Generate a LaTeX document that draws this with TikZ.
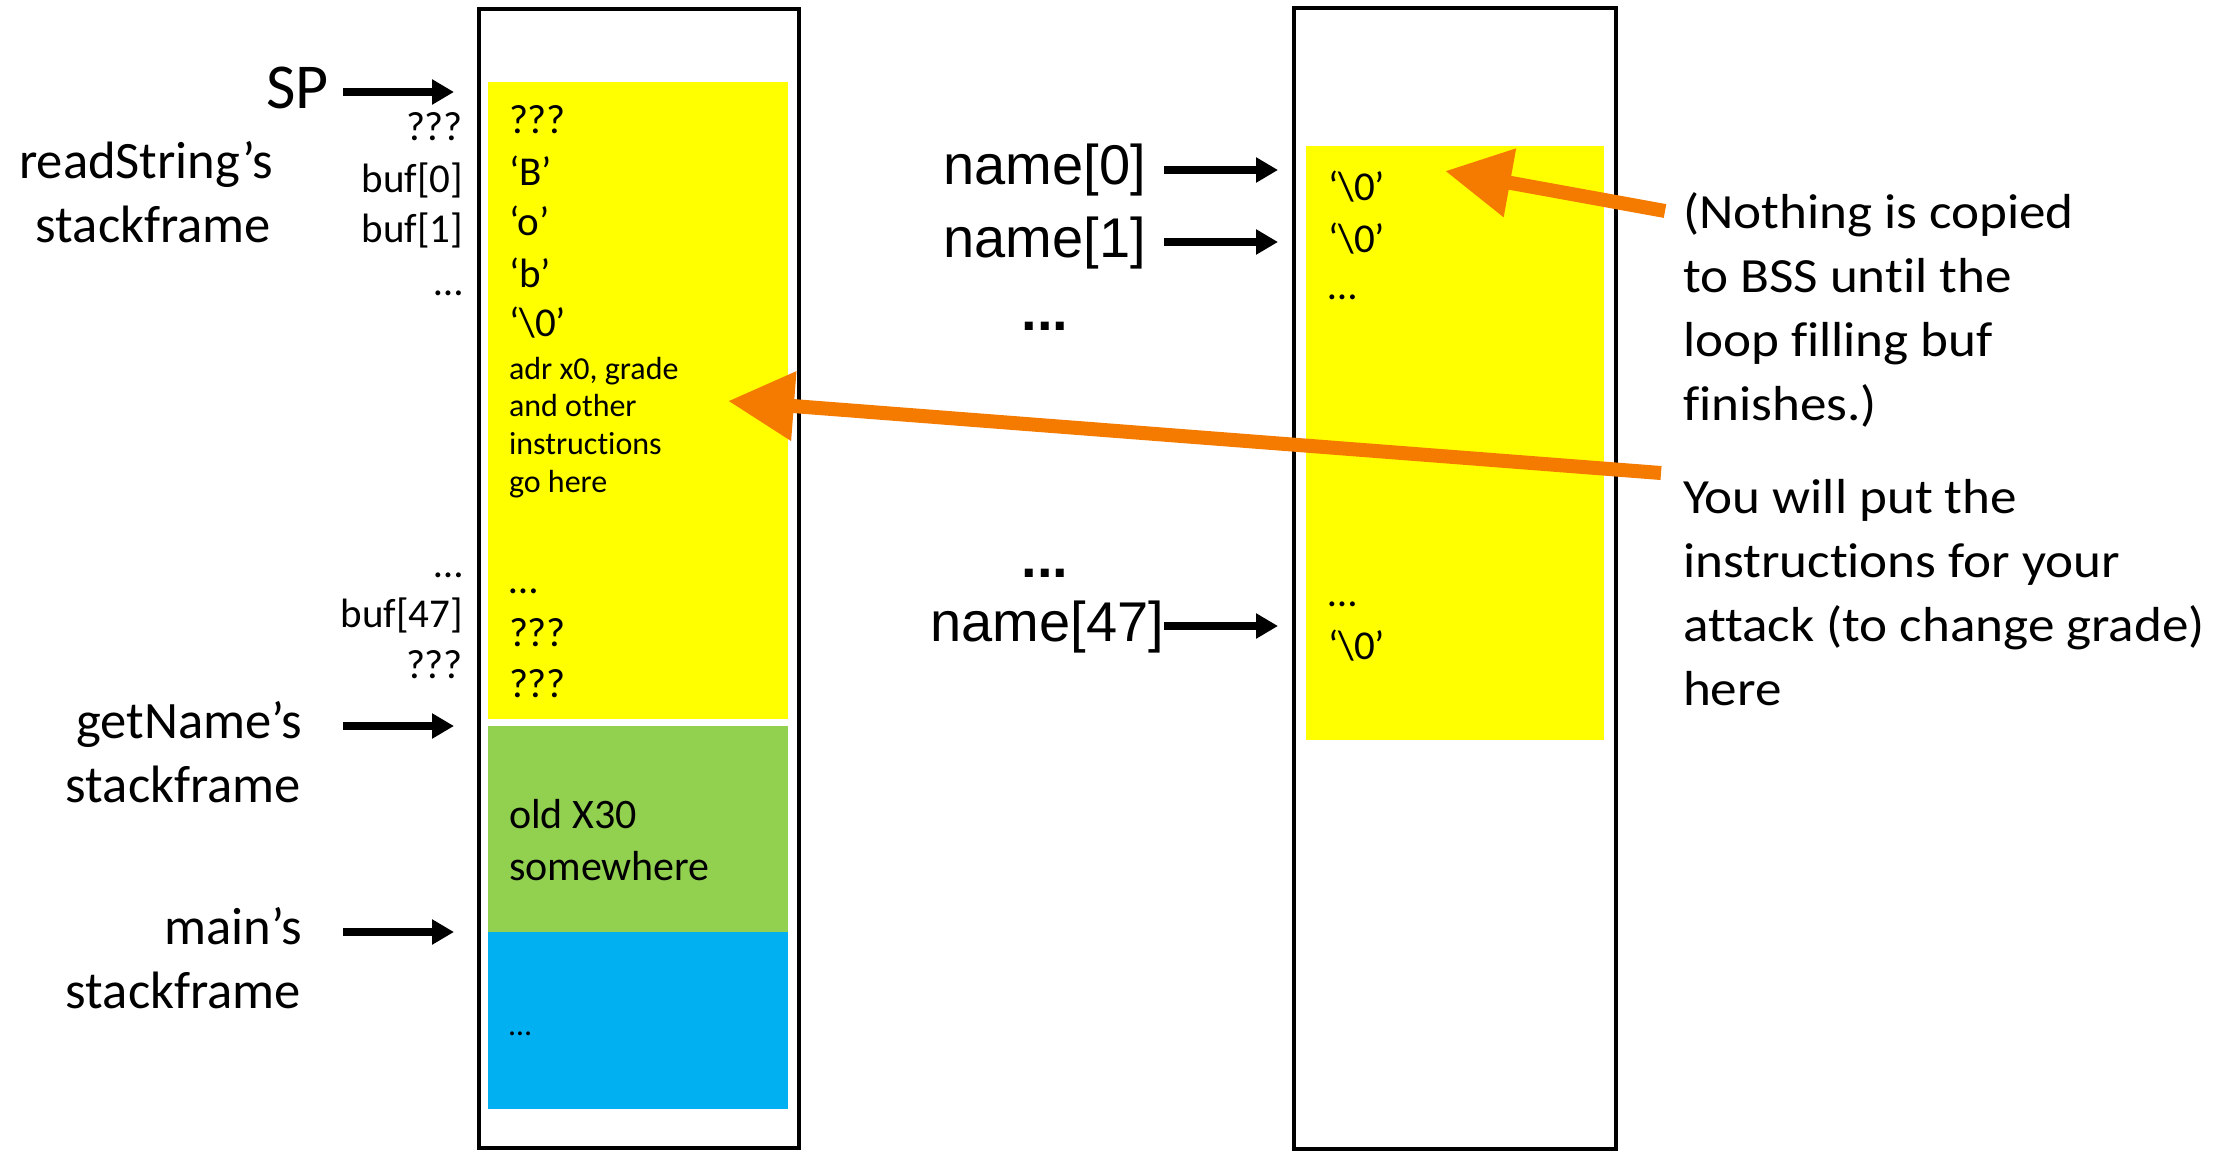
\documentclass[tikz,border=0pt]{standalone}
\usepackage{fontspec}
\setmainfont[Ligatures=NoCommon]{Carlito}
\newfontfamily\arialfont{Liberation Sans}
\newfontfamily\notefont[FakeStretch=1.08,Ligatures=NoCommon]{Carlito}
\usetikzlibrary{arrows.meta}

\definecolor{memyellow}{HTML}{FFFF00}
\definecolor{memgreen}{HTML}{92D050}
\definecolor{memblue}{HTML}{00B0F0}
\definecolor{calloutorange}{HTML}{F47B00}

\begin{document}
\begin{tikzpicture}[x=0.5pt,y=-0.5pt,
  every node/.style={inner sep=0pt, outer sep=0pt},
  framelbl/.style={anchor=base east, font=\fontsize{26.3}{31}\selectfont},
  slotlbl/.style={anchor=base east, font=\fontsize{20.5}{24}\selectfont},
  cell/.style={anchor=base west, font=\fontsize{20.5}{24}\selectfont},
  smallcell/.style={anchor=base west, font=\fontsize{16}{19}\selectfont},
  namelbl/.style={anchor=base east, font=\arialfont\fontsize{28}{32}\selectfont},
  dotslbl/.style={anchor=base, font=\arialfont\bfseries\fontsize{28}{32}\selectfont},
  note/.style={anchor=base west, font=\notefont\fontsize{24.6}{32}\selectfont},
  ptr/.style={line width=4pt, -{Triangle[length=11pt,width=12pt]}},
  callout/.style={draw=calloutorange, line width=7pt, -{Triangle[length=33pt,width=33pt]}},
  memframe/.style={line width=2.2pt}
]
\useasboundingbox (0,0) rectangle (2230,1151);
\fill[white] (0,0) rectangle (2230,1151);

% ---------- stack column ----------
\fill[memyellow] (488,82) rectangle (788,719);
\fill[memgreen]  (488,726) rectangle (788,932);
\fill[memblue]   (488,932) rectangle (788,1109);
\draw[memframe] (479,9) rectangle (799,1148);

% ---------- BSS column ----------
\fill[memyellow] (1306,146) rectangle (1604,740);
\draw[memframe] (1294,8) rectangle (1616,1149);

% ---------- stack frame labels ----------
\node[framelbl, font=\fontsize{32}{36}\selectfont] (sp) at (329,108) {SP};
\node[framelbl] (rs1) at (273,178) {readString’s};
\node[framelbl] (rs2) at (271,242) {stackframe};
\node[framelbl] (gn1) at (302,738) {getName’s};
\node[framelbl] (gn2) at (301,802) {stackframe};
\node[framelbl] (mn1) at (302,944) {main’s};
\node[framelbl] (mn2) at (301,1008) {stackframe};

\coordinate (spA) at (343,92);   \coordinate (spB) at (454,92);
\coordinate (gnA) at (343,726);  \coordinate (gnB) at (454,726);
\coordinate (mnA) at (343,932);  \coordinate (mnB) at (454,932);
\draw[ptr] (spA) -- (spB);
\draw[ptr] (gnA) -- (gnB);
\draw[ptr] (mnA) -- (mnB);

% ---------- slot labels beside the stack ----------
\foreach \y/\t [count=\i] in {140/???, 192/{buf[0]}, 242/{buf[1]}, 295/…,
                             577/…, 627/{buf[47]}, 678/???}
  \node[slotlbl] (slot\i) at (463,\y) {\t};

% ---------- contents of readString's frame ----------
\foreach \y/\t [count=\i] in {133/???, 185/‘B’, 235/‘o’, 287/‘b’,
                             336/‘\textbackslash0’, 593/…, 646/???, 697/???}
  \node[cell] (cell\i) at (509,\y) {\t};
\foreach \y/\t [count=\i] in {379/{adr x0, grade}, 416/and other,
                             454/instructions, 492/go here}
  \node[smallcell] (code\i) at (509,\y) {\t};

% ---------- contents of getName's and main's frames ----------
\node[cell, font=\fontsize{21}{26}\selectfont] (oldA) at (509,828) {old X30};
\node[cell, font=\fontsize{21}{26}\selectfont] (oldB) at (509,880) {somewhere};
\node[smallcell] (mainrest) at (509,1035) {…};

% ---------- BSS labels ----------
\node[namelbl] (n0)  at (1146,184) {name[0]};
\node[namelbl] (n1)  at (1146,257) {name[1]};
\node[dotslbl] (nd1) at (1045,330) {...};
\node[dotslbl] (nd2) at (1045,577) {...};
\node[namelbl] (n47) at (1164,641) {name[47]};

\coordinate (n0A)  at (1164,170); \coordinate (n0B)  at (1278,170);
\coordinate (n1A)  at (1164,242); \coordinate (n1B)  at (1278,242);
\coordinate (n47A) at (1164,626); \coordinate (n47B) at (1278,626);
\draw[ptr] (n0A) -- (n0B);
\draw[ptr] (n1A) -- (n1B);
\draw[ptr] (n47A) -- (n47B);

\foreach \y/\t [count=\i] in {200/‘\textbackslash0’, 252/‘\textbackslash0’,
                             299/…, 606/…, 659/‘\textbackslash0’}
  \node[cell, font=\fontsize{20.5}{24}\selectfont] (bss\i) at (1328,\y) {\t};

% ---------- notes ----------
\foreach \y/\t [count=\i] in {228/(Nothing is copied, 292/to BSS until the,
                             356/loop filling buf, 420/finishes.)}
  \node[note] (noteA\i) at (1683,\y) {\t};
\foreach \y/\t [count=\i] in {513/You will put the, 577/instructions for your,
                             641/attack (to change grade), 705/here}
  \node[note] (noteB\i) at (1683,\y) {\t};

\coordinate (bssTip)  at (1445,171);
\coordinate (noteAend) at (1665,211);
\coordinate (bufTip)  at (728,401);
\coordinate (noteBend) at (1661,473);
\draw[callout] (noteAend) -- (bssTip);
\draw[callout] (noteBend) -- (bufTip);
\end{tikzpicture}
\end{document}
